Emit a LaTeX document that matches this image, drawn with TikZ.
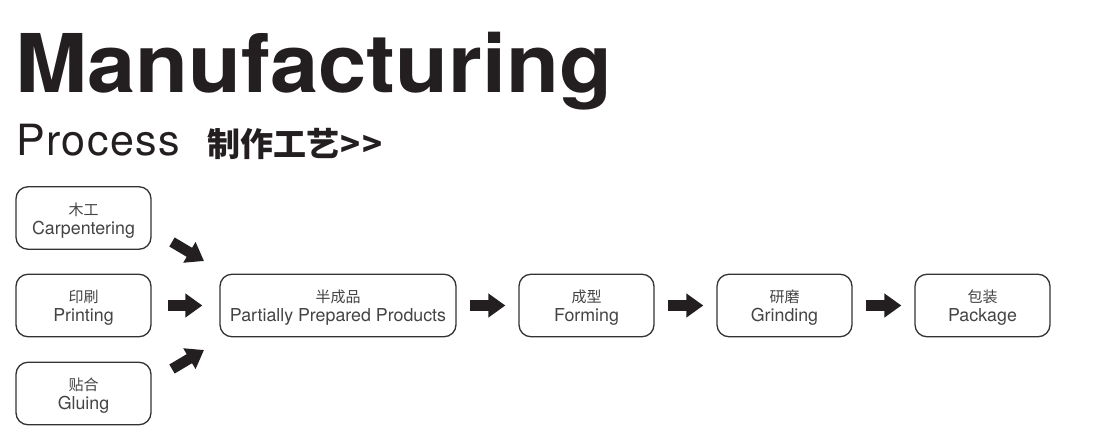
\documentclass[tikz,border=0pt]{standalone}
\usepackage{fontspec}
\setmainfont{TeX Gyre Heros}
\newfontfamily\cjk{Noto Sans CJK SC}
\newfontfamily\procfont{TeX Gyre Heros}[LetterSpace=3.5]
\usetikzlibrary{arrows.meta}
\definecolor{ink}{HTML}{231F20}
\definecolor{boxline}{HTML}{333333}
\definecolor{boxtext}{HTML}{444444}
\newcommand{\cn}[1]{{\cjk\fontsize{15}{19}\selectfont\rule{0pt}{17.2pt}#1}}
\begin{document}
\begin{tikzpicture}[x=1pt,y=-1pt,
  stepbox/.style={draw=boxline, line width=1.3pt, rounded corners=12pt,
    minimum height=62.5pt, minimum width=135pt, align=center, text=boxtext,
    font=\fontsize{17.8}{19}\selectfont, inner sep=0pt},
  blockarrow/.style={line width=10.5pt, draw=ink, -{Triangle[length=17pt,width=23pt]}}]
\useasboundingbox (0,0) rectangle (1107,433);
\fill[white] (0,0) rectangle (1107,433);
% titles
\node[anchor=base west, inner sep=0pt, text=ink, font=\fontsize{81}{81}\selectfont\bfseries] (title) at (15,93) {\scalebox{1.07}[1]{Manufacturing}};
\node[anchor=base west, inner sep=0pt, text=ink] (proc) at (16,155) {\procfont\fontsize{43}{44}\selectfont Process};
\node[anchor=base west, inner sep=0pt, text=ink] (proccn) at (207,156) {\cjk\bfseries\fontsize{33}{34}\selectfont 制作工艺\kern1pt>\kern2pt>};
% boxes
\node[stepbox] (carp) at (83.5,218) {\cn{木工}\\Carpentering};
\node[stepbox] (print) at (83.5,305.5) {\cn{印刷}\\Printing};
\node[stepbox] (glue) at (83.5,393.5) {\cn{贴合}\\Gluing};
\node[stepbox, minimum width=236pt] (part) at (338,305.5) {\cn{半成品}\\Partially Prepared Products};
\node[stepbox] (form) at (586.5,305.5) {\cn{成型}\\Forming};
\node[stepbox] (grind) at (784.5,305.5) {\cn{研磨}\\Grinding};
\node[stepbox] (pack) at (982.5,305.5) {\cn{包装}\\Package};
% arrows
\coordinate (t1) at (172,242);
\coordinate (t2) at (204,261);
\coordinate (b1) at (172,369);
\coordinate (b2) at (204,350);
\draw[blockarrow] (t1) -- (t2);
\draw[blockarrow] (b1) -- (b2);
\draw[blockarrow, shorten <=16pt, shorten >=17pt] (print) -- (part);
\draw[blockarrow, shorten <=13pt, shorten >=13pt] (part) -- (form);
\draw[blockarrow, shorten <=13pt, shorten >=13pt] (form) -- (grind);
\draw[blockarrow, shorten <=13pt, shorten >=13pt] (grind) -- (pack);
\end{tikzpicture}
\end{document}
